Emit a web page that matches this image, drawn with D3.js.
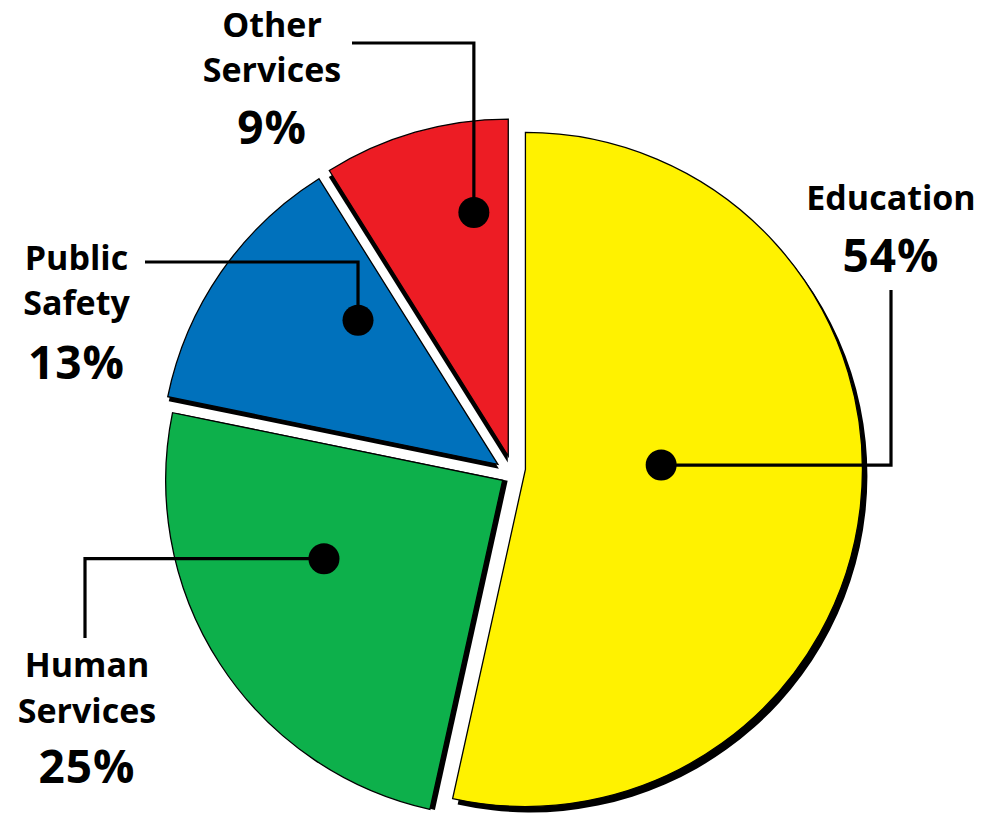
<!DOCTYPE html>
<html>
<head>
<meta charset="utf-8">
<script src="https://cdn.jsdelivr.net/npm/d3@7"></script>
<style>
  html, body { margin: 0; padding: 0; background: #fff; }
  svg { display: block; }
  text { font-family: "Open Sans", "DejaVu Sans", sans-serif; font-weight: 700; fill: #000; }
</style>
</head>
<body>
<svg id="chart" width="998" height="814"></svg>
<script>
// ---- data ----
const categories = ["Education", "Human Services", "Public Safety", "Other Services"];
const values = [54, 25, 13, 9];
const percentLabels = ["54%", "25%", "13%", "9%"];
const labelLines = [["Education"], ["Human", "Services"], ["Public", "Safety"], ["Other", "Services"]];
const colors = ["#FFF200", "#0DB04B", "#0071BC", "#ED1C24"];

// ---- layout ----
const W = 998, H = 814;
const center = [512, 469];
const explode = 13.5;
const radius = 337;
const sliceNudge = [[0, -1], [2, 4], [-3, 3], [0, 0]];
const shadowOffsets = [[5, 6], [5, 0.5], [1, 4.5], [-0.5, 6.5]];
const labelLayout = [
  { x: 891, lines: [210], pctY: 272, dotShift: -8.1, dotFrac: 0.403, mode: "h", end: [891, 290] },
  { x: 87, lines: [677, 723], pctY: 783, dotShift: 9.3, dotFrac: 0.579, mode: "h", end: [85, 638] },
  { x: 76.5, lines: [270, 315], pctY: 379, dotShift: 11.1, dotFrac: 0.596, mode: "v", end: [145, 262] },
  { x: 272, lines: [37, 82], pctY: 144, dotShift: 8, dotFrac: 0.73, mode: "v", end: [352, 43] }
];

const svg = d3.select("#chart");
const data = categories.map((c, i) => ({ name: c, value: values[i], pct: percentLabels[i], lines: labelLines[i], color: colors[i], i }));

const pie = d3.pie().sort(null).value(d => d.value).startAngle(0).endAngle(2 * Math.PI);
const arcs = pie(data);
const arc = d3.arc().innerRadius(0).outerRadius(radius);

const polar = (a, r) => [r * Math.sin(a), -r * Math.cos(a)];

arcs.forEach(a => {
  const mid = (a.startAngle + a.endAngle) / 2;
  const off = polar(mid, explode);
  const n = sliceNudge[a.index];
  a.apex = [center[0] + off[0] + n[0], center[1] + off[1] + n[1]];
  a.mid = mid;
});

const gSlices = svg.append("g");
// shadows
gSlices.selectAll("path.shadow").data(arcs).join("path")
  .attr("class", "shadow")
  .attr("d", arc)
  .attr("fill", "#000")
  .attr("transform", d => `translate(${d.apex[0] + shadowOffsets[d.index][0]},${d.apex[1] + shadowOffsets[d.index][1]})`);
// slices
gSlices.selectAll("path.slice").data(arcs).join("path")
  .attr("class", "slice")
  .attr("d", arc)
  .attr("fill", d => d.data.color)
  .attr("stroke", "#000")
  .attr("stroke-width", 1.3)
  .attr("stroke-linejoin", "miter")
  .attr("transform", d => `translate(${d.apex[0]},${d.apex[1]})`);

// leaders and dots
const gLead = svg.append("g");
arcs.forEach(a => {
  const L = labelLayout[a.index];
  const p = polar(a.mid + L.dotShift * Math.PI / 180, L.dotFrac * radius);
  const dot = [a.apex[0] + p[0], a.apex[1] + p[1]];
  const path = d3.path();
  path.moveTo(dot[0], dot[1]);
  if (L.mode === "h") {
    path.lineTo(L.end[0], dot[1]);
    path.lineTo(L.end[0], L.end[1]);
  } else {
    path.lineTo(dot[0], L.end[1]);
    path.lineTo(L.end[0], L.end[1]);
  }
  gLead.append("path")
    .attr("d", path.toString())
    .attr("fill", "none")
    .attr("stroke", "#000")
    .attr("stroke-width", 3.2)
    .attr("stroke-linejoin", "miter");
  gLead.append("circle")
    .attr("cx", dot[0]).attr("cy", dot[1]).attr("r", 15.5)
    .attr("fill", "#000");
});

// labels
const gText = svg.append("g");
arcs.forEach(a => {
  const L = labelLayout[a.index];
  a.data.lines.forEach((t, k) => {
    gText.append("text")
      .attr("x", L.x).attr("y", L.lines[k])
      .attr("text-anchor", "middle")
      .attr("font-size", 34)
      .text(t);
  });
  gText.append("text")
    .attr("x", L.x).attr("y", L.pctY)
    .attr("text-anchor", "middle")
    .attr("font-size", 46)
    .attr("letter-spacing", 1)
    .text(a.data.pct);
});
</script>
</body>
</html>
